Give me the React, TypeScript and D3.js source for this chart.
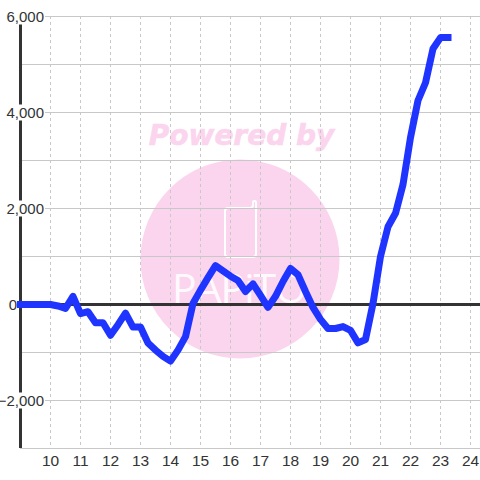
import React from "react";
import * as d3 from "d3";

const hours = [9,9.25,9.5,9.75,10,10.25,10.5,10.75,11,11.25,11.5,11.75,12,12.25,12.5,12.75,13,13.25,13.5,13.75,14,14.25,14.5,14.75,15,15.25,15.5,15.75,16,16.25,16.5,16.75,17,17.25,17.5,17.75,18,18.25,18.5,18.75,19,19.25,19.5,19.75,20,20.25,20.5,20.75,21,21.25,21.5,21.75,22,22.25,22.5,22.75,23,23.25];
const values = [0,0,0,0,0,-30,-80,170,-190,-150,-380,-380,-640,-420,-180,-470,-470,-800,-950,-1080,-1180,-950,-670,20,300,560,810,700,590,500,270,430,190,-60,170,480,750,620,270,-60,-310,-500,-500,-460,-540,-800,-730,20,1000,1620,1900,2500,3480,4250,4620,5330,5560,5560];
const xTicks = [10,11,12,13,14,15,16,17,18,19,20,21,22,23,24];
const yGrid = [6000,5000,4000,3000,2000,1000,-1000,-2000,-3000];
const yLabels = [6000,4000,2000,0,-2000];

export default function App() {
  const x = d3.scaleLinear().domain([9, 24]).range([20.5, 470.5]);
  const y = d3.scaleLinear().domain([-3000, 6000]).range([448.5, 16.5]);
  const line = d3.line<number>().x((_, i) => x(hours[i])).y(d => y(d));
  const font = "'Liberation Sans', Arial, sans-serif";
  return (
    <svg width={480} height={480} style={{ position: "fixed", left: 0, top: 0, background: "#fff" }}>
      <circle cx={240} cy={259} r={99.5} fill="#fbd5ee" />
      <text x={241.5} y={145} textAnchor="middle" fontFamily="'DejaVu Sans'" fontWeight="bold" fontStyle="italic" fontSize={28} fill="#fbd5ee" stroke="#fbd5ee" strokeWidth={0.6}>Powered by</text>
      <path d="M228 208 H250 Q253 208 253 205 V202 Q253 201 254.5 201 Q256 201 256 202 V254 Q256 257 253 257 H228 Q225 257 225 254 V211 Q225 208 228 208 Z" fill="none" stroke="#fff" strokeWidth={2} />
      <text x={172} y={303} fontFamily="'Open Sans'" fontWeight={400} fontSize={41} textLength={135} lengthAdjust="spacing" fill="#fff" fillOpacity={0.9}>PAPiTO</text>
      {yGrid.map(v => <line key={v} x1={20} x2={480} y1={y(v)} y2={y(v)} stroke="#c8c8c8" strokeWidth={1} />)}
      {xTicks.map(t => <line key={t} x1={x(t)} x2={x(t)} y1={16} y2={448} stroke="#c8c8c8" strokeWidth={1} strokeDasharray="3 3" />)}
      <line x1={20.5} x2={20.5} y1={16} y2={448} stroke="#333" strokeWidth={3} />
      <line x1={20} x2={480} y1={y(0)} y2={y(0)} stroke="#333" strokeWidth={3} />
      {yLabels.filter(v => v !== 0).map(v => (
        <g key={v}>
          <rect x={0} y={y(v) - 8} width={45} height={16} fill="#fff" />
          <text x={44} y={y(v) + 5.5} textAnchor="end" fontFamily={font} fontSize={15} fill="#333">{d3.format(",")(v)}</text>
        </g>
      ))}
      <path d={line(values) ?? ""} fill="none" stroke="#1f35ff" strokeWidth={7} strokeLinejoin="round" strokeLinecap="square" />
      <text x={17} y={y(0) + 5.5} textAnchor="end" fontFamily={font} fontSize={15} fill="#333">0</text>
      {xTicks.map(t => (
        <text key={t} x={x(t)} y={466} textAnchor="middle" fontFamily={font} fontSize={15.5} fill="#333">{t}</text>
      ))}
    </svg>
  );
}
